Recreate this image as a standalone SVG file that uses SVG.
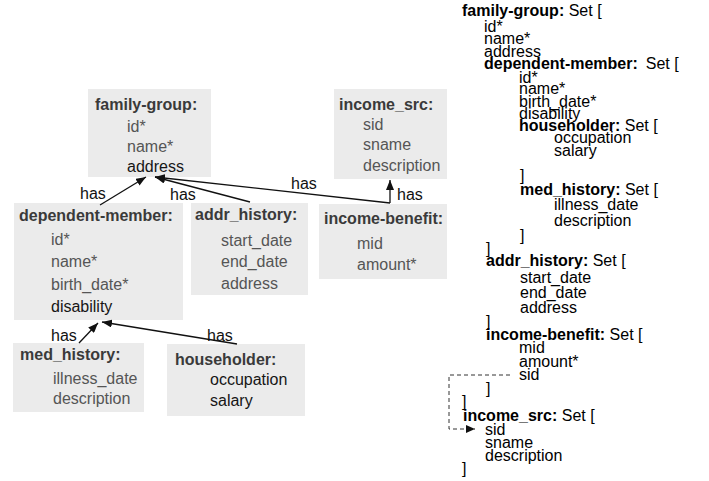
<svg xmlns="http://www.w3.org/2000/svg" width="709" height="481" viewBox="0 0 709 481">
  <style>
    text { font-family: "Liberation Sans", Arial, sans-serif; font-size: 16px; }
    .box { fill: #ebebeb; }
    .ttl { font-weight: bold; fill: #3a3a3a; }
    .fld { fill: #555555; }
    .dk { fill: #161616; }
    .lbl { fill: #111111; }
    .edge { stroke: #111111; stroke-width: 1.3; fill: none; }
    .ref { stroke: #333333; stroke-width: 1; fill: none; stroke-dasharray: 4 3; }
    .r { fill: #000000; }
    .b { font-weight: bold; }
  </style>
  <defs>
    <marker id="tri" viewBox="0 0 10 8" refX="10" refY="4" markerWidth="10" markerHeight="8" markerUnits="userSpaceOnUse" orient="auto">
      <path d="M0,0 L10,4 L0,8 Z" fill="#111111"/>
    </marker>
    <marker id="tri-s" viewBox="0 0 9 8" refX="9" refY="4" markerWidth="9" markerHeight="8" markerUnits="userSpaceOnUse" orient="auto">
      <path d="M0,0 L9,4 L0,8 Z" fill="#111111"/>
    </marker>
  </defs>

  <!-- entity boxes -->
  <g id="family-group">
    <rect class="box" x="88" y="89" width="123" height="88"/>
    <text class="ttl" x="95" y="110">family-group:</text>
    <text class="fld" x="127" y="132">id*</text>
    <text class="fld" x="127" y="152">name*</text>
    <text class="dk" x="127" y="172">address</text>
  </g>

  <g id="income_src">
    <rect class="box" x="334" y="89" width="113" height="90"/>
    <text class="ttl" x="339" y="110">income_src:</text>
    <text class="fld" x="363" y="130">sid</text>
    <text class="fld" x="363" y="150">sname</text>
    <text class="fld" x="363" y="171">description</text>
  </g>

  <g id="dependent-member">
    <rect class="box" x="14" y="203" width="169" height="117"/>
    <text class="ttl" x="19" y="221">dependent-member:</text>
    <text class="fld" x="51" y="245">id*</text>
    <text class="fld" x="51" y="267">name*</text>
    <text class="fld" x="51" y="290">birth_date*</text>
    <text class="dk" x="51" y="312">disability</text>
  </g>

  <g id="addr_history">
    <rect class="box" x="191" y="203" width="117" height="92"/>
    <text class="ttl" x="195" y="220">addr_history:</text>
    <text class="fld" x="221" y="246">start_date</text>
    <text class="fld" x="221" y="267">end_date</text>
    <text class="fld" x="221" y="289">address</text>
  </g>

  <g id="income-benefit">
    <rect class="box" x="319" y="204" width="128" height="75"/>
    <text class="ttl" x="324" y="224">income-benefit:</text>
    <text class="fld" x="357" y="249">mid</text>
    <text class="fld" x="357" y="270">amount*</text>
  </g>

  <g id="med_history">
    <rect class="box" x="13" y="343" width="131" height="69"/>
    <text class="ttl" x="20" y="360">med_history:</text>
    <text class="fld" x="53" y="384">illness_date</text>
    <text class="fld" x="53" y="404">description</text>
  </g>

  <g id="householder">
    <rect class="box" x="167" y="344" width="138" height="72"/>
    <text class="ttl" x="175" y="365">householder:</text>
    <text class="dk" x="210" y="385">occupation</text>
    <text class="dk" x="210" y="406">salary</text>
  </g>

  <!-- "has" connectors -->
  <g id="connectors">
    <line class="edge" x1="100" y1="205" x2="146" y2="177" marker-end="url(#tri)"/>
    <line class="edge" x1="250" y1="202" x2="155" y2="177" marker-end="url(#tri)"/>
    <line class="edge" x1="390" y1="203" x2="155" y2="177" marker-end="url(#tri)"/>
    <line class="edge" x1="390" y1="203" x2="390" y2="180" marker-end="url(#tri)"/>
    <line class="edge" x1="79" y1="343" x2="98" y2="323" marker-end="url(#tri)"/>
    <line class="edge" x1="237" y1="344" x2="102" y2="322" marker-end="url(#tri)"/>
    <text class="lbl" x="80" y="199">has</text>
    <text class="lbl" x="170" y="200">has</text>
    <text class="lbl" x="291" y="189">has</text>
    <text class="lbl" x="397" y="200">has</text>
    <text class="lbl" x="51" y="341">has</text>
    <text class="lbl" x="207" y="341">has</text>
  </g>

  <!-- nested-set schema listing -->
  <g id="schema">
    <text class="r" x="462" y="16"><tspan class="b">family-group:</tspan> Set [</text>
    <text class="r" x="484" y="32">id*</text>
    <text class="r" x="484" y="44">name*</text>
    <text class="r" x="484" y="57">address</text>
    <text class="r" x="484" y="69"><tspan class="b">dependent-member:</tspan><tspan dx="8">Set [</tspan></text>
    <text class="r" x="519" y="83">id*</text>
    <text class="r" x="519" y="94">name*</text>
    <text class="r" x="519" y="107">birth_date*</text>
    <text class="r" x="519" y="119">disability</text>
    <text class="r" x="519" y="131"><tspan class="b">householder:</tspan> Set [</text>
    <text class="r" x="554" y="143">occupation</text>
    <text class="r" x="554" y="156">salary</text>
    <text class="r" x="520" y="181">]</text>
    <text class="r" x="520" y="195"><tspan class="b">med_history:</tspan> Set [</text>
    <text class="r" x="554" y="210">illness_date</text>
    <text class="r" x="554" y="226">description</text>
    <text class="r" x="520" y="241">]</text>
    <text class="r" x="486" y="254">]</text>
    <text class="r" x="486" y="266"><tspan class="b">addr_history:</tspan> Set [</text>
    <text class="r" x="520" y="283">start_date</text>
    <text class="r" x="520" y="298">end_date</text>
    <text class="r" x="520" y="313">address</text>
    <text class="r" x="486" y="327">]</text>
    <text class="r" x="486" y="340"><tspan class="b">income-benefit:</tspan> Set [</text>
    <text class="r" x="519" y="353">mid</text>
    <text class="r" x="519" y="367">amount*</text>
    <text class="r" x="519" y="380">sid</text>
    <text class="r" x="486" y="394">]</text>
    <text class="r" x="462" y="407">]</text>
    <text class="r" x="463" y="421"><tspan class="b">income_src:</tspan> Set [</text>
    <text class="r" x="485" y="435">sid</text>
    <text class="r" x="485" y="448">sname</text>
    <text class="r" x="485" y="461">description</text>
    <text class="r" x="462" y="474">]</text>
  </g>

  <!-- foreign key reference: income-benefit.sid -> income_src.sid -->
  <g id="sid-reference">
    <path class="ref" d="M510,375 H449 V429 H475" marker-end="url(#tri-s)"/>
  </g>
</svg>
